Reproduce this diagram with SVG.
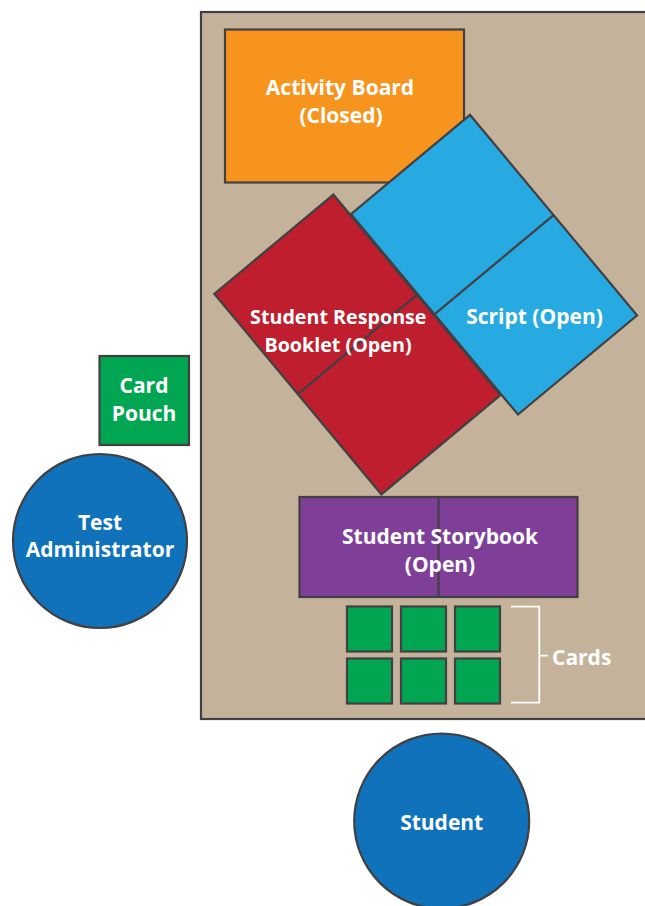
<svg xmlns="http://www.w3.org/2000/svg" width="645" height="906" viewBox="0 0 645 906">
<style>
.s{stroke:#414042;stroke-width:2.2}
.t{font-family:"Open Sans","Liberation Sans",sans-serif;font-weight:700;font-size:21px;fill:#fff;text-anchor:middle}
</style>
<rect width="645" height="906" fill="#fff"/>
<g id="table"><rect class="s" x="201" y="12" width="470" height="707" fill="#C4B39A" stroke-width="2.6"/></g>
<g id="activity-board">
<rect class="s" x="225" y="29.5" width="239" height="153" fill="#F7941E"/>
<text class="t" x="340" y="95">Activity Board</text>
<text class="t" x="341" y="123">(Closed)</text>
</g>
<g id="script">
<g transform="translate(494 264.7) rotate(50.2)">
<rect class="s" x="-130.5" y="-77.5" width="261" height="155" fill="#27AAE1"/>
<line class="s" x1="0" y1="-77.5" x2="0" y2="77.5"/>
</g>
<text class="t" x="534.5" y="323.5">Script (Open)</text>
</g>
<g id="response-booklet">
<g transform="translate(357.4 344.5) rotate(50.2)">
<rect class="s" x="-130.5" y="-77.5" width="261" height="155" fill="#BE1E2D"/>
<line class="s" x1="0" y1="-77.5" x2="0" y2="77.5"/>
</g>
<text class="t" x="338.3" y="323.5" style="font-size:19.7px">Student Response</text>
<text class="t" x="338" y="352" style="font-size:19.7px">Booklet (Open)</text>
</g>
<g id="storybook">
<rect class="s" x="299.5" y="497" width="278" height="100" fill="#7F3F98"/>
<line class="s" x1="438.5" y1="497" x2="438.5" y2="597"/>
<text class="t" x="440" y="544">Student Storybook</text>
<text class="t" x="440" y="572">(Open)</text>
</g>
<g id="cards">
<rect class="s" x="347" y="606.5" width="45" height="45" fill="#00A651"/>
<rect class="s" x="401" y="606.5" width="45" height="45" fill="#00A651"/>
<rect class="s" x="455" y="606.5" width="45" height="45" fill="#00A651"/>
<rect class="s" x="347" y="658.5" width="45" height="45" fill="#00A651"/>
<rect class="s" x="401" y="658.5" width="45" height="45" fill="#00A651"/>
<rect class="s" x="455" y="658.5" width="45" height="45" fill="#00A651"/>
<path d="M511 606.7H539.3V702.7H511M539.3 655.7H547.7" fill="none" stroke="#fff" stroke-width="1.8"/>
<text class="t" x="552" y="665" style="text-anchor:start">Cards</text>
</g>
<g id="card-pouch">
<rect class="s" x="99.5" y="356" width="89.5" height="89" fill="#00A651"/>
<text class="t" x="144" y="393">Card</text>
<text class="t" x="144" y="421">Pouch</text>
</g>
<g id="test-administrator">
<circle class="s" cx="100" cy="541" r="87" fill="#0F72BA"/>
<text class="t" x="100" y="530">Test</text>
<text class="t" x="100" y="557">Administrator</text>
</g>
<g id="student">
<circle class="s" cx="441.7" cy="821" r="87.5" fill="#0F72BA"/>
<text class="t" x="441.7" y="830">Student</text>
</g>
<g id="connectors"></g>
</svg>
